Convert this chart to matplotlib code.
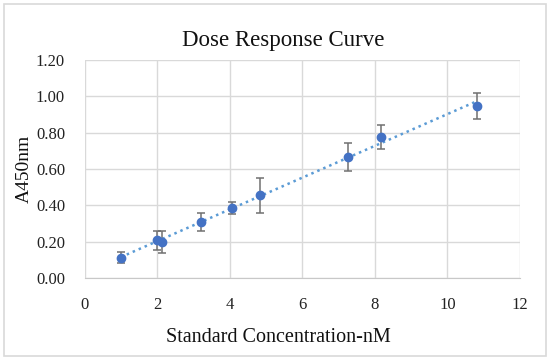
import numpy as np
from matplotlib import pyplot as plt
from matplotlib.patches import Rectangle

# standard concentrations (nM) and mean absorbance at 450 nm
conc = [1.0, 2.01, 2.13, 3.22, 4.07, 4.83, 7.26, 8.16, 10.82]
a450 = [0.112, 0.207, 0.198, 0.31, 0.383, 0.455, 0.664, 0.776, 0.947]
a450_err = [0.031, 0.053, 0.063, 0.05, 0.033, 0.096, 0.077, 0.065, 0.073]

x_ticks = [0, 2, 4, 6, 8, 10, 12]
y_ticks = [0.0, 0.2, 0.4, 0.6, 0.8, 1.0, 1.2]

plt.rcParams['font.family'] = ['Liberation Serif', 'DejaVu Serif']

fig = plt.figure(figsize=(5.5, 3.6), dpi=100)
ax = fig.add_axes([84.5 / 550, 82 / 360, 435.5 / 550, 218 / 360])

# linear trendline
slope, intercept = np.polyfit(conc, a450, 1)
xs = np.array([min(conc), max(conc)])
ax.plot(xs, slope * xs + intercept, linestyle=(0, (1, 1.6)), color="#5B9BD5",
        linewidth=1.8, zorder=2)

ax.errorbar(conc, a450, yerr=a450_err, fmt="o", color="#4472C4", markersize=6,
            ecolor="#707070", elinewidth=1.1, capsize=3, capthick=1.1, zorder=3)

ax.set_xlim(0, 12)
ax.set_ylim(0, 1.2)
ax.set_xticks(x_ticks)
ax.set_yticks(y_ticks)
ax.set_yticklabels([f"{v:.2f}" for v in y_ticks])
ax.tick_params(length=0, labelsize=12, colors="#222222")
ax.tick_params(axis='y', pad=14)
ax.tick_params(axis='x', pad=14)
ax.grid(True, color="#d9d9d9", linewidth=1)
ax.set_axisbelow(True)
for s in ax.spines.values():
    s.set_visible(False)
ax.spines['bottom'].set_visible(True)
ax.spines['bottom'].set_color("#c8c8c8")

fig.text(283 / 550, (360 - 46) / 360, "Dose Response Curve", fontsize=16.5,
         ha="center", va="baseline", color="#111111")
fig.text(278 / 550, (360 - 342) / 360, "Standard Concentration-nM", fontsize=14.5,
         ha="center", va="baseline", color="#111111")
ax.set_ylabel("A450nm", fontsize=14, labelpad=2, color="#111111")

fig.patches.append(Rectangle((4 / 550, 4 / 360), 542 / 550, 352 / 360,
                             transform=fig.transFigure, fill=False,
                             edgecolor="#d9d9d9", linewidth=1.2))

fig.savefig("out.png", dpi=100)
